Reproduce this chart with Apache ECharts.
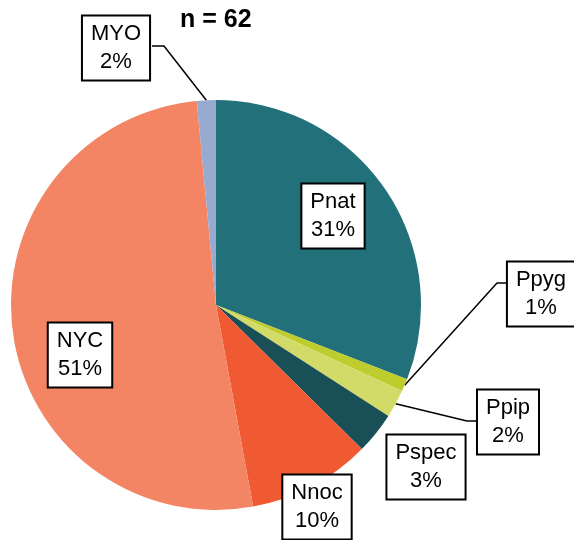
<!DOCTYPE html>
<html>
<head>
<meta charset="utf-8">
<script src="https://cdn.jsdelivr.net/npm/echarts@6/dist/echarts.min.js"></script>
<style>
  html, body { margin: 0; padding: 0; background: #fff; }
  #chart { width: 574px; height: 540px; }
</style>
</head>
<body>
<div id="chart"></div>
<script>
// data
var species = ['Pnat', 'Ppyg', 'Ppip', 'Pspec', 'Nnoc', 'NYC', 'MYO'];
var shares = [30.9, 1.0, 2.2, 3.3, 9.7, 51.4, 1.5];
var sampleSize = 62;

var colors = ['#21707A', '#BFCC2E', '#D3DB68', '#194F56', '#F05A33', '#F38565', '#97AAD0'];

// label boxes (center x, y) and leader line elbows
var boxPos = [
  [333, 216], [541, 294], [508, 422], [426, 467], [317, 507], [80, 355], [116, 48]
];
var elbows = {
  1: [[497, 283], [508, 283]],
  2: [[467, 421], [476, 421]],
  6: [[164, 46], [152, 46]]
};

var chart = echarts.init(document.getElementById('chart'));

var pieData = species.map(function (name, i) {
  var hasLine = !!elbows[i];
  return {
    name: name,
    value: shares[i],
    itemStyle: { color: colors[i] },
    label: { position: hasLine ? 'outside' : 'inside' },
    labelLine: { show: hasLine }
  };
});

var option = {
  backgroundColor: '#fff',
  animation: false,
  title: {
    text: 'n = ' + sampleSize,
    left: 180,
    top: 8,
    padding: 0,
    textStyle: { fontFamily: 'Liberation Sans, Arial', fontWeight: 'bold', fontSize: 25, color: '#000' }
  },
  series: [{
    type: 'pie',
    center: [216, 305],
    radius: 205,
    startAngle: 90,
    clockwise: true,
    data: pieData,
    itemStyle: { borderWidth: 0 },
    label: {
      show: true,
      position: 'outside',
      overflow: 'none',
      formatter: function (p) { return p.name + '\n' + Math.round(p.percent) + '%'; },
      fontFamily: 'Liberation Sans, Arial',
      fontSize: 22,
      lineHeight: 28,
      color: '#000',
      backgroundColor: '#fff',
      borderColor: '#000',
      borderWidth: 2,
      padding: [4, 8, 3, 8],
      align: 'center'
    },
    labelLine: {
      show: true,
      lineStyle: { color: '#000', width: 1.5 }
    },
    labelLayout: function (params) {
      var i = params.dataIndex;
      var out = { x: boxPos[i][0], y: boxPos[i][1], align: 'center', verticalAlign: 'middle' };
      if (elbows[i] && params.labelLinePoints) {
        out.labelLinePoints = [params.labelLinePoints[0], elbows[i][0], elbows[i][1]];
      }
      return out;
    }
  }]
};

chart.setOption(option);
</script>
</body>
</html>
